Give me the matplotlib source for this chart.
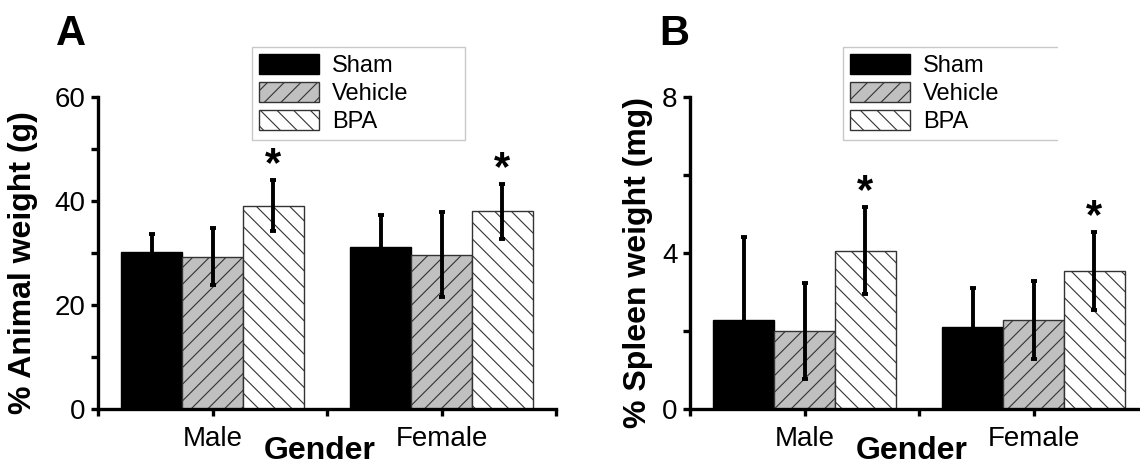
import matplotlib
matplotlib.use("Agg")
import matplotlib.pyplot as plt
from matplotlib.transforms import Bbox, TransformedBbox

plt.rcParams['font.family'] = ['Liberation Sans', 'DejaVu Sans']
plt.rcParams['hatch.linewidth'] = 0.8

genders = ["Male", "Female"]
groups = ["Sham", "Vehicle", "BPA"]

# A: % animal weight (g)
weight_sham = [30.1, 31.1]
weight_sham_err = [3.5, 6.2]
weight_vehicle = [29.3, 29.7]
weight_vehicle_err = [5.5, 8.2]
weight_bpa = [39.1, 38.0]
weight_bpa_err = [4.9, 5.3]

# B: % spleen weight (mg)
spleen_sham = [2.29, 2.09]
spleen_sham_err = [2.11, 1.02]
spleen_vehicle = [2.0, 2.29]
spleen_vehicle_err = [1.24, 1.0]
spleen_bpa = [4.06, 3.53]
spleen_bpa_err = [1.12, 1.0]

W, H = 1140, 468
fig = plt.figure(figsize=(W / 100, H / 100), dpi=100)

styles = [
    dict(color="black", edgecolor="black", hatch=None),
    dict(color="#c0c0c0", edgecolor="#333333", hatch="//"),
    dict(color="white", edgecolor="#333333", hatch="\\\\"),
]
bw = 0.265


def panel(rect, means, errs, ymax, yticks, yminor, ylabel, ylab_x, legend_box, clip_right=None):
    ax = fig.add_axes(rect)
    xs = [1, 2]
    for i, (m, e) in enumerate(zip(means, errs)):
        pos = [x + (i - 1) * bw for x in xs]
        st = styles[i]
        ax.bar(pos, m, width=bw, color=st["color"], edgecolor=st["edgecolor"],
               hatch=st["hatch"], linewidth=1, label=groups[i], zorder=2)
        ax.errorbar(pos, m, yerr=e, fmt="none", ecolor="black", elinewidth=2.8,
                    capsize=2.5, capthick=2.8, zorder=3)
        if i == 2:
            for p, mm, ee in zip(pos, m, e):
                ax.annotate("*", xy=(p, mm + ee), xytext=(0, 3), textcoords="offset points",
                            ha="center", va="baseline", fontsize=30, fontweight="bold")
    ax.set_xlim(0.5, 2.5)
    ax.set_ylim(0, ymax)
    ax.set_xticks(xs)
    ax.set_xticklabels(genders)
    ax.set_xticks([0.5, 1.5, 2.5], minor=True)
    ax.set_yticks(yticks)
    ax.set_yticks(yminor, minor=True)
    for s in ["top", "right"]:
        ax.spines[s].set_visible(False)
    for s in ["left", "bottom"]:
        ax.spines[s].set_linewidth(2.4)
    ax.tick_params(which="both", direction="out", width=2.4, length=5)
    ax.tick_params(axis="y", labelsize=20, pad=4)
    ax.tick_params(axis="x", labelsize=20, pad=7)
    ax.set_xlabel("Gender", fontsize=23, fontweight="bold", labelpad=-11, x=0.485)
    ax.set_ylabel(ylabel, fontsize=23, fontweight="bold")
    ax.yaxis.set_label_coords(ylab_x, 0.47)
    x0, top, x1 = legend_box
    leg = fig.legend(*ax.get_legend_handles_labels(), loc="upper left",
                     bbox_to_anchor=(x0 / W, 1 - top / H - 0.3, (x1 - x0) / W, 0.3),
                     bbox_transform=fig.transFigure, mode="expand", borderaxespad=0,
                     fontsize=17, handlelength=2.55, handleheight=0.92,
                     labelspacing=0.2, handletextpad=0.55, borderpad=0.3,
                     fancybox=False, framealpha=1, edgecolor="#c8c8c8")
    leg.get_frame().set_linewidth(1)
    if clip_right is not None:
        frame = leg.get_frame()
        frame.set_clip_box(TransformedBbox(Bbox([[0, 0], [clip_right / W, 1]]), fig.transFigure))
        frame.set_clip_on(True)
    return ax


panel([98 / W, 59 / H, 458 / W, 312 / H],
      [weight_sham, weight_vehicle, weight_bpa],
      [weight_sham_err, weight_vehicle_err, weight_bpa_err],
      60, [0, 20, 40, 60], [10, 30, 50], "% Animal weight (g)", -0.13,
      (252, 47, 465))

panel([690 / W, 59 / H, 458 / W, 312 / H],
      [spleen_sham, spleen_vehicle, spleen_bpa],
      [spleen_sham_err, spleen_vehicle_err, spleen_bpa_err],
      8, [0, 4, 8], [2, 6], "% Spleen weight (mg)", -0.08,
      (843, 47, 1064), clip_right=1058)

fig.text(56 / W, 1 - 45 / H, "A", fontsize=30, fontweight="bold", va="baseline")
fig.text(659 / W, 1 - 45 / H, "B", fontsize=30, fontweight="bold", va="baseline")

fig.savefig("out.png", dpi=100)
